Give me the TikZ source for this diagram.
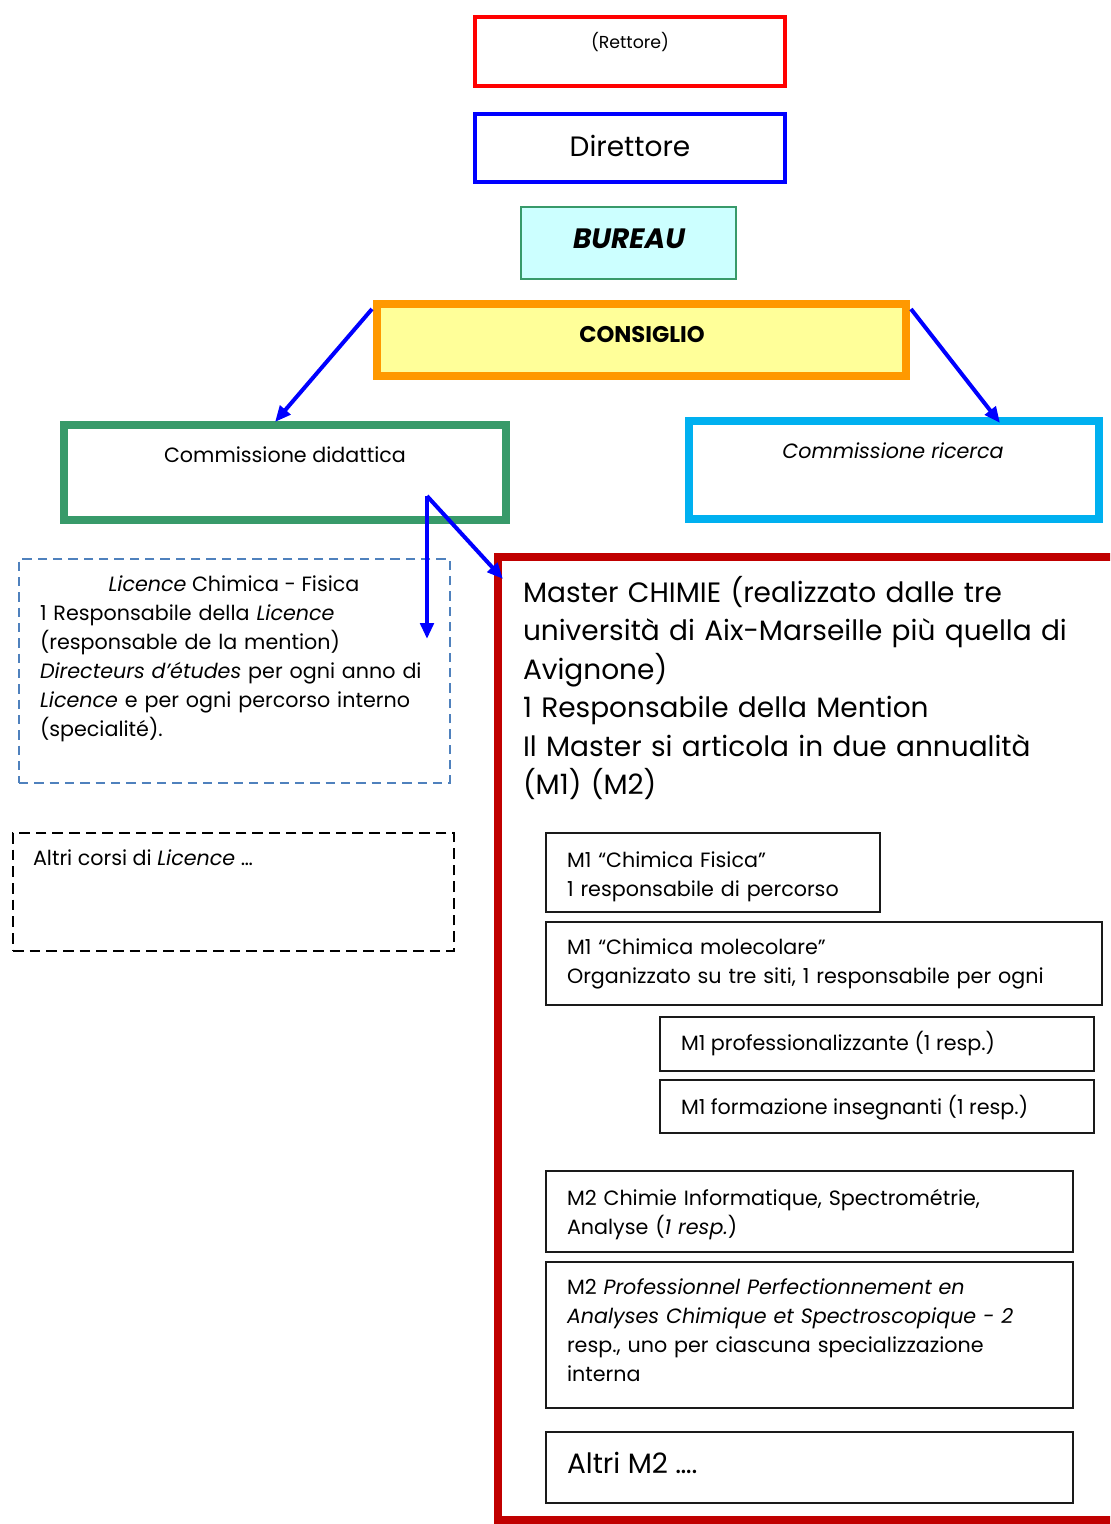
\documentclass[tikz,border=0pt]{standalone}
\usepackage{fontspec}
\setmainfont{Poppins}
\usetikzlibrary{calc,arrows.meta,fit}
\definecolor{cRed}{HTML}{FF0000}
\definecolor{cBlue}{HTML}{0000FF}
\definecolor{cGreen}{HTML}{389A6A}
\definecolor{cCyanFill}{HTML}{CCFFFF}
\definecolor{cYellow}{HTML}{FFFF99}
\definecolor{cOrange}{HTML}{FF9900}
\definecolor{cSky}{HTML}{00B0F0}
\definecolor{cDash}{HTML}{4F81BD}
\definecolor{cDarkRed}{HTML}{C00000}
\definecolor{cInk}{HTML}{1A1A1A}
\tikzset{
  boxbase/.style={inner sep=0pt, outer sep=0pt},
  rettorebox/.style={boxbase, draw=cRed, line width=3pt},
  direttorebox/.style={boxbase, draw=cBlue, line width=3pt},
  bureaubox/.style={boxbase, draw=cGreen, fill=cCyanFill, line width=1.2pt},
  consigliobox/.style={boxbase, draw=cOrange, fill=cYellow, line width=6pt},
  didatticabox/.style={boxbase, draw=cGreen, line width=6pt},
  ricercabox/.style={boxbase, draw=cSky, line width=6pt},
  licencebox/.style={boxbase, draw=cDash, line width=1.5pt, dash pattern=on 7pt off 4.5pt},
  altribox/.style={boxbase, draw=black, line width=1.8pt, dash pattern=on 8pt off 4.5pt},
  masterbox/.style={boxbase, draw=cDarkRed, line width=6pt},
  innerbox/.style={boxbase, draw=cInk, line width=1.5pt},
  conn/.style={draw=cBlue, line width=3pt, -{Triangle[length=12pt,width=10pt]}},
  txt/.style={inner sep=0pt, outer sep=0pt, text=black},
  small/.style={txt, font=\fontsize{13}{16}\selectfont},
  normal/.style={txt, font=\fontsize{15.5}{21.75}\selectfont},
  big/.style={txt, font=\fontsize{21}{28.9}\selectfont},
}
\begin{document}
\begin{tikzpicture}[x=0.75pt,y=-0.75pt]
\useasboundingbox (0,0) rectangle (1110,1524);
\clip (0,0) rectangle (1110,1524);
\fill[white] (0,0) rectangle (1110,1524);

% top boxes
\node[rettorebox, fit={(475,17) (785,86)}] (rettore) {};
\node[small, anchor=base] (rettoretxt) at (630,48) {(Rettore)};

\node[direttorebox, fit={(475,114) (785,182)}] (direttore) {};
\node[big, anchor=base] (direttoretxt) at (630,156) {Direttore};

\node[bureaubox, fit={(521,207) (736,279)}] (bureau) {};
\node[big, anchor=base] (bureautxt) at (629,248) {\bfseries\itshape BUREAU};

\node[consigliobox, fit={(377,304) (906,376)}] (cons) {};
\node[txt, font=\fontsize{17}{20}\selectfont, anchor=base] (constxt) at (642,342) {\bfseries CONSIGLIO};

% commissions
\node[didatticabox, fit={(64,425) (506,520)}] (did) {};
\node[normal, anchor=base] (didtxt) at (285,462) {Commissione didattica};

\node[ricercabox, fit={(689,421) (1099,519)}] (ric) {};
\node[normal, anchor=base] (rictxt) at (893,458) {\itshape Commissione ricerca};

% licence
\node[licencebox, fit={(19,559) (450,783)}] (lic) {};
\node[normal, anchor=base] (lictitle) at (234,591) {\itshape Licence\/\upshape{} Chimica - Fisica};
\node[normal, anchor=base west, text width=400pt, align=left] (lictxt) at (40,620)
  {1 Responsabile della \textit{Licence}\\
   (responsable de la mention)\\
   \textit{Directeurs d’études} per ogni anno di\\
   \textit{Licence} e per ogni percorso interno\\
   (specialité).};

\node[altribox, fit={(13,833) (454,951)}] (altri) {};
\node[normal, anchor=base west] (altritxt) at (33,865) {Altri corsi di \textit{Licence} …};

% master
\node[masterbox, fit={(498,557) (1130,1520)}] (master) {};
\node[big, anchor=base west, text width=600pt, align=left] (mastertxt) at (523,602)
  {Master CHIMIE (realizzato dalle tre\\
   università di Aix-Marseille più quella di\\
   Avignone)\\
   1 Responsabile della Mention\\
   Il Master si articola in due annualità\\
   (M1) (M2)};

\node[innerbox, fit={(546,833) (880,912)}] (m1cf) {};
\node[normal, anchor=base west, text width=400pt, align=left] (m1cftxt) at (567,867)
  {M1 “Chimica Fisica”\\ 1 responsabile di percorso};

\node[innerbox, fit={(546,922) (1102,1005)}] (m1cm) {};
\node[normal, anchor=base west, text width=500pt, align=left] (m1cmtxt) at (567,954)
  {M1 “Chimica molecolare”\\ Organizzato su tre siti, 1 responsabile per ogni};

\node[innerbox, fit={(660,1017) (1094,1071)}] (m1pr) {};
\node[normal, anchor=base west] (m1prtxt) at (681,1050) {M1 professionalizzante (1 resp.)};

\node[innerbox, fit={(660,1080) (1094,1133)}] (m1fi) {};
\node[normal, anchor=base west] (m1fitxt) at (681,1114) {M1 formazione insegnanti (1 resp.)};

\node[innerbox, fit={(546,1171) (1073,1252)}] (m2ci) {};
\node[normal, anchor=base west, text width=500pt, align=left] (m2citxt) at (567,1205)
  {M2 Chimie Informatique, Spectrométrie,\\ Analyse (\textit{1 resp.})};

\node[innerbox, fit={(546,1262) (1073,1408)}] (m2pp) {};
\node[normal, anchor=base west, text width=500pt, align=left] (m2pptxt) at (567,1294)
  {M2 \textit{Professionnel Perfectionnement en}\\
   \textit{Analyses Chimique et Spectroscopique - 2}\\
   resp., uno per ciascuna specializzazione\\
   interna};

\node[innerbox, fit={(546,1432) (1073,1503)}] (m2al) {};
\node[big, anchor=base west] (m2altxt) at (567,1473) {Altri M2 ….};

% connectors
\coordinate (split) at (427,496);
\draw[conn] ($(cons.north west)+(-5,5)$) -- ($(did.north west)+(211,-3)$);
\draw[conn] ($(cons.north east)+(5,5)$) -- ($(ric.north west)+(311,2)$);
\draw[conn] (split) -- ($(lic.north west)+(408,80)$);
\draw[conn] (split) -- ($(master.north west)+(5,22)$);
\end{tikzpicture}
\end{document}
